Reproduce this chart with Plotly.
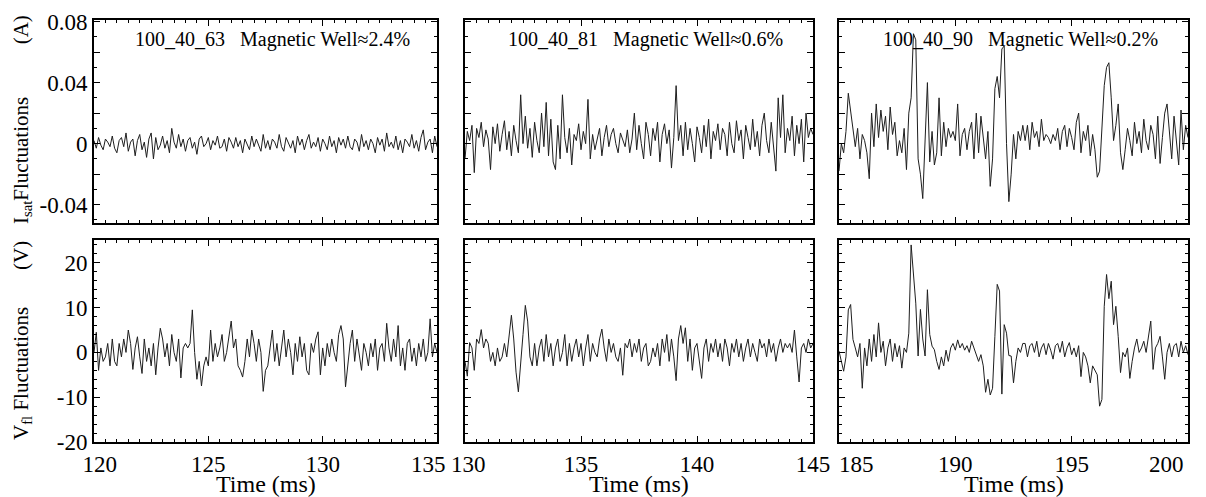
import numpy as np
import plotly.graph_objects as go
from plotly.subplots import make_subplots

# ---------------- data ----------------
t_start = [120.0, 130.0, 185.0]      # ms, start of each time window
t_step = 0.1                          # ms, spacing of the digitised samples
window = 15.0                         # ms

shot_labels = ["100_40_63\u00a0\u00a0 Magnetic Well\u22482.4%",
               "100_40_81\u00a0\u00a0 Magnetic Well\u22480.6%",
               "100_40_90\u00a0\u00a0 Magnetic Well\u22480.2%"]

NB = "\u00a0"
# interior x tick labels drawn by the axes
x_tickvals = [[120, 125, 130], [135, 140, 145], [190, 195]]
x_ticktext = [[NB * 2 + "120", "125", "130"], ["135", "140", "145"], ["190", "195"]]
# labels at panel edges that the original nudges inwards: (column, time, text, pixel nudge)
edge_labels = [(0, 135, "135", -9), (1, 130, "130", 3), (2, 185, "185", 17), (2, 200, "200", -22)]

isat_tickvals = [-40, -20, 0, 20, 40, 60, 80]          # mA
isat_ticktext = ["-0.04", " ", "0", " ", "0.04", " ", "0.08"]  # A
vfl_tickvals = [-20, -10, 0, 10, 20]
vfl_ticktext = ["-20", "-10", "0", "10", "20"]

# Isat fluctuations in mA (axis labelled in A)
isat_63 = [2, -3, 4, -1, -4, 3, 1, -2, 5, -3,
           -6, 2, 4, -2, 7, -5, 1, 3, -8, 2,
           6, -4, 1, -9, 3, 7, -10, 4, -4, -1,
           5, -3, 2, -6, 10, 1, -3, 6, -2, 3,
           -5, 2, 4, -3, 1, -7, 3, 5, -2, 0,
           4, -4, 2, -1, 5, -3, -2, 3, -5, 4,
           1, -3, 4, -2, 2, -6, 3, 0, -4, 5,
           -2, 3, -1, -5, 6, -3, 2, -4, 3, 1,
           -3, 6, -2, -5, 4, 1, -3, 2, -6, 5,
           -1, 3, -4, 2, 6, -3, 1, -2, 4, -5,
           3, 0, -4, 5, -2, 2, -6, 4, -1, 3,
           -3, 5, -2, -4, 3, 1, -5, 6, -2, 2,
           -4, 3, 0, -6, 4, -1, 3, -5, 7, -2,
           1, -3, 5, -4, 2, -6, 3, 1, -2, 6,
           -3, 2, -5, 4, 9, -4, 1, 3, -6, 5,
           -2]

isat_81 = [-10, 8, 2, 12, -19, 10, 4, 14, -2, 9,
           3, -17, 11, 0, 13, -5, 6, 15, -4, 8,
           -8, 12, 2, -6, 32, 0, 18, -3, 10, -9,
           14, 2, -6, 20, -2, 27, -8, 16, -12, -17,
           12, -10, 32, 4, -6, 10, -14, 6, 2, 13,
           -4, 8, 0, 29, -10, 6, -4, 2, 10, -8,
           4, 12, -2, 6, 10, 0, -6, 7, 3, -2,
           9, -6, 3, 20, -4, 12, 0, -10, 14, 6,
           -8, 10, 2, 14, -12, 6, 13, 0, 9, -16,
           4, 38, 2, 12, -8, 14, -4, 10, 0, -12,
           11, 4, -6, 12, -2, 16, -10, 8, 2, 13,
           -4, 10, 6, -8, 14, 0, -6, 15, 2, 9,
           -10, 12, 4, -4, 16, -2, 8, -8, 12, 20,
           2, -6, 14, -2, -18, 30, 4, 32, -6, 10,
           2, 18, -8, 12, 0, 16, -12, 20, 4, 10,
           6]

isat_90 = [-18, 0, -6, 8, 33, 22, 12, -2, 10, -10,
           6, 2, -6, -23, 20, -2, 26, 4, 22, 8,
           18, -4, 24, 6, 14, -8, 2, -6, 10, -17,
           20, 30, 72, 68, -10, -20, -36, 6, 40, -12,
           8, -14, -6, 30, -8, 14, -2, 10, 4, 8,
           2, 26, -8, 6, 10, -4, 8, 14, -10, 20,
           -6, 18, 4, -10, 8, -28, -10, 36, 44, 30,
           62, 64, 0, -38, -20, 6, -10, 8, 2, 12,
           2, 12, -4, 14, 4, 8, -2, 16, 2, 6,
           4, 0, 6, 2, 10, -4, 8, 12, -2, 10,
           4, -4, 14, 20, -6, 8, 2, 12, -8, 6,
           -4, -22, -18, 10, 38, 50, 53, 30, 2, 12,
           26, -6, -17, -4, 10, 2, -8, 14, 0, 8,
           -6, 16, 2, -4, 12, 6, -10, 18, -13, 4,
           20, 26, 8, -10, 18, 2, -14, 22, -4, 12,
           4]

# Floating potential fluctuations in V
vfl_63 = [0, 4.5, -4, 1, -2, -1, 2, -3, 3, -2,
          -3, 2, -1, 3, 0, 5, 2, -3.8, 1, 3.5,
          -1, -4.7, 3, -2, 1, -3, 2, -5, 1, 5.4,
          3, -1, 2, -3, 4, 0, -2, 3, -5.7, 1,
          2, 1, 2, 9.5, 0, -6, -2, -7.5, -3, -1,
          -3, 5, -2, 2, -1, 1, 4, -2, 0, 3,
          7, 1, 3, -3, -4, -5.5, -2, 3, -1, 5,
          2, -2, 3, 0, -8.7, -4, -3, 1, 5, -2,
          2, -3, 1, 5, -1, 3, 0, -5, 2, -2,
          3.5, -1, 2, -4, -5, 2, 0, 3, 4.6, -5,
          1, -3, 2, -1, 3, 0, -2, 4, 6, 3,
          -7.7, -3, 2, 5, -2, 3, -1, -4, 2, 0,
          -3, 2, -1, 3, -4, 1, 2, -2, 6.5, 1,
          -2, 3, -1, 6, -3, 1, -4, 2, 3, -2,
          1, -3, 2, -1, 3, -2, 0, 7.5, -1, 2,
          0]

vfl_81 = [-2, -5.3, 2.2, 1, -4, 3, 2, 5.1, 1, 3,
          2, -2, 0, -3, 1, -2, -1, 2, -1, 4,
          8.3, 3, -4.4, -8.8, -3, 4, 10.5, 7, -1, -3,
          2, -3, 1, 3, -2, 4, -1, 2, -3, 1,
          3, -2, 0, 4, -3, 2, -2, 1, 3, -1,
          2, -3, 1, 4, -2, 2, 0, -1, 3, 5.2,
          1, -2, 3, 0, 2, -1, -2, 1, -5.1, 2,
          1, 3, -1, 2, 0, 3, -2, 1, 2, -3,
          -2, 1, -1, 2, -3, 3, 0, 4, -2, 3,
          -1, -6.3, 3, 6, 2, 5.5, -2, 3, -4, 1,
          2, -2, -5.8, 1, 3, -2, 2, 0, 3, -1,
          2, -2, 3, 1, -3, 2, 0, 3, -1, 2,
          -2, 1, 3, -1, 2, 0, -2, 3, 1, 2,
          -1, 3, 0, 2, -2, 1, 3, 0, 2, 1,
          2, 0, 5, -1, -6.6, 1, 2, 0, 3, 1,
          2]

vfl_90 = [0.3, -2, -4.2, -1, 9.5, 10.7, 2.9, 1, -1, 2,
          -8, 1, -3, 3, -2, 4, -1, 6.6, 0, 2.5,
          -3, 1, 3, -2, 2, -1, 1.5, -3.5, 1, 0,
          4.3, 24, 17, 11, -0.8, 9.6, 3, -0.8, 14, 4,
          1.4, 0.6, -2, -3.8, -1, -3, 0.5, -2, 1, 2,
          0.5, 2.8, 1, 2, 0.5, 1.5, 0, 2.5, 1, -0.5,
          -2, -0.5, -3, -8.9, -6, -9.5, -8, 3.6, 15.2, 13.7,
          -9.3, 6.2, 4.3, -0.7, -0.8, -6.8, -2, 1, 0, 2,
          2, -1, 1.5, 2, 0, 2.5, -1, 1, 2, -0.5,
          2, 0.5, -1.5, 1.5, 2, 0, 2.5, -1, 1, 2.2,
          -0.5, 1, -1, 1.5, -5.4, 0, -1, -3, -6.8, -3,
          -4, -5, -12, -10.5, 10.3, 17.4, 12, 15.9, 6.2, 10.3,
          3.6, -4.5, 0, -1, 1, -5.8, -2, 1, 3, 0,
          1, 2.5, 0, 4, 7, -3.8, 1, 2, 3.6, -1,
          -6, 0, 2, -1, 1.5, 2, -1, 2.5, 0, 1.5,
          -0.5]

isat_series = [isat_63, isat_81, isat_90]
vfl_series = [vfl_63, vfl_81, vfl_90]

# ---------------- figure ----------------
W, H = 1206, 497
FONT = "Liberation Serif, Times New Roman, serif"
LINE_COLOR = "#1e1e1e"
TICK_SIZE = 23

fig = make_subplots(rows=2, cols=3)

x_dom = [[94 / W, 437 / W], [465 / W, 813 / W], [839 / W, 1188 / W]]
y_dom = [[1 - 223 / H, 1 - 20 / H], [1 - 442 / H, 1 - 240 / H]]

for c in range(3):
    n = len(isat_series[c])
    t = t_start[c] + t_step * np.arange(n)
    fig.add_trace(go.Scatter(x=t, y=isat_series[c], mode="lines",
                             line=dict(color=LINE_COLOR, width=1),
                             showlegend=False, hoverinfo="skip"), row=1, col=c + 1)
    n2 = len(vfl_series[c])
    t2 = t_start[c] + t_step * np.arange(n2)
    fig.add_trace(go.Scatter(x=t2, y=vfl_series[c], mode="lines",
                             line=dict(color=LINE_COLOR, width=1),
                             showlegend=False, hoverinfo="skip"), row=2, col=c + 1)

axis_common = dict(showline=True, linewidth=2, linecolor="black", mirror="allticks",
                   ticks="inside", ticklen=6, tickwidth=1, tickcolor="black",
                   showgrid=False, zeroline=False, automargin=False,
                   tickfont=dict(family=FONT, size=TICK_SIZE, color="black"))

for r in range(2):
    for c in range(3):
        idx = r * 3 + c + 1
        xname = "xaxis" if idx == 1 else f"xaxis{idx}"
        yname = "yaxis" if idx == 1 else f"yaxis{idx}"
        t0 = t_start[c]
        fig.layout[xname].update(
            domain=x_dom[c], range=[t0, t0 + window],
            tickmode="array", tickvals=x_tickvals[c],
            ticktext=x_ticktext[c], showticklabels=(r == 1),
            minor=dict(tickmode="linear", tick0=t0, dtick=0.5, ticks="inside",
                       ticklen=3, tickcolor="black", showgrid=False),
            **axis_common)
        if r == 0:
            fig.layout[yname].update(
                domain=y_dom[0], range=[-52, 81],
                tickmode="array", tickvals=isat_tickvals, ticktext=isat_ticktext,
                showticklabels=(c == 0),
                minor=dict(tickmode="linear", tick0=0, dtick=10, ticks="inside",
                           ticklen=3, tickcolor="black", showgrid=False),
                **axis_common)
        else:
            fig.layout[yname].update(
                domain=y_dom[1], range=[-20, 25.1],
                tickmode="array", tickvals=vfl_tickvals, ticktext=vfl_ticktext,
                showticklabels=(c == 0),
                minor=dict(tickmode="linear", tick0=0, dtick=2, ticks="inside",
                           ticklen=3, tickcolor="black", showgrid=False),
                **axis_common)

annotations = []
for c in range(3):
    xname = "x" if c == 0 else f"x{c + 1}"
    annotations.append(dict(text=shot_labels[c], xref=f"{xname} domain", yref="paper",
                            x=0.52, y=1 - 40 / H, xanchor="center", yanchor="middle",
                            showarrow=False,
                            font=dict(family=FONT, size=20, color="black")))
    annotations.append(dict(text="Time (ms)", xref=f"{xname} domain", yref="paper",
                            x=0.5, y=1 - 484 / H, xanchor="center", yanchor="middle",
                            showarrow=False,
                            font=dict(family=FONT, size=24, color="black")))

# edge tick labels of the bottom time axes, placed on the axis scale
for c, tv, txt, nudge in edge_labels:
    xname = "x" + str(4 + c)
    annotations.append(dict(text=txt, xref=xname, yref="paper",
                            x=tv, y=1 - 464 / H, xanchor="center", yanchor="middle",
                            xshift=nudge, showarrow=False,
                            font=dict(family=FONT, size=TICK_SIZE, color="black")))

annotations.append(dict(text="I<sub>sat</sub>Fluctuations" + NB * 10 + "(A)", xref="paper", yref="paper",
                        x=22 / W, y=1 - 120 / H, xanchor="center", yanchor="middle",
                        textangle=-90, showarrow=False,
                        font=dict(family=FONT, size=21, color="black")))
annotations.append(dict(text="V<sub>fl</sub> Fluctuations" + NB * 7 + "(V)", xref="paper", yref="paper",
                        x=22 / W, y=1 - 341 / H, xanchor="center", yanchor="middle",
                        textangle=-90, showarrow=False,
                        font=dict(family=FONT, size=21, color="black")))

fig.update_layout(width=W, height=H, margin=dict(l=0, r=0, t=0, b=0, autoexpand=False),
                  paper_bgcolor="white", plot_bgcolor="white",
                  annotations=annotations, showlegend=False,
                  font=dict(family=FONT, color="black"))

fig.write_html("out.html")
